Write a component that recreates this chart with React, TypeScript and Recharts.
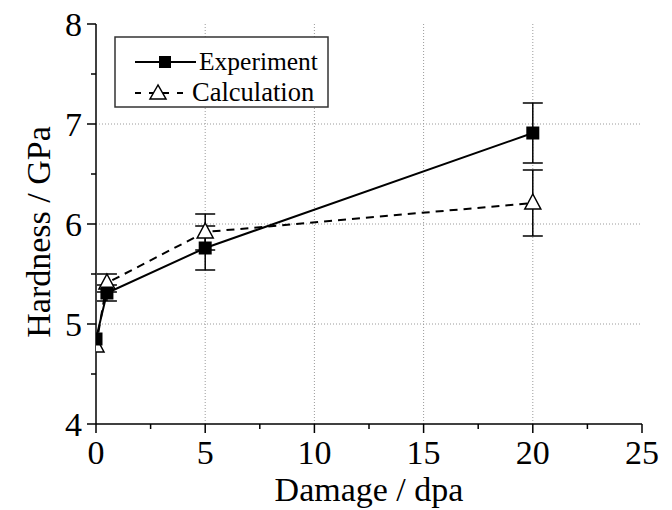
import { LineChart, Line, XAxis, YAxis, ErrorBar, ReferenceLine, Label } from 'recharts';

const damage = [0, 0.5, 5, 20];
const experiment = [4.85, 5.31, 5.76, 6.91];
const experimentErr = [null, 0.08, 0.22, 0.3];
const calculation = [4.78, 5.41, 5.92, 6.21];
const calculationErr = [null, 0.09, 0.18, 0.33];

const xTicks = [0, 2.5, 5, 7.5, 10, 12.5, 15, 17.5, 20, 22.5, 25];
const yTicks = [4, 4.5, 5, 5.5, 6, 6.5, 7, 7.5, 8];
const xGrid = [5, 10, 15, 20];
const yGrid = [5, 6, 7];

const seriesNames = ['Experiment', 'Calculation'];

const rows = damage.map((x, i) => ({
  x,
  exp: experiment[i],
  expErr: experimentErr[i],
  calc: calculation[i],
  calcErr: calculationErr[i],
}));

const FONT = 'Liberation Serif, Tinos, Times New Roman, serif';
const textStyle = { fontFamily: FONT };

const isMajor = (v: number) => v % 5 === 0;
const isMajorY = (v: number) => v % 1 === 0;

const BottomTick = ({ x, y, payload }: any) => {
  const major = isMajor(payload.value);
  return (
    <g>
      <line x1={x} y1={y} x2={x} y2={y + (major ? 9 : 5)} stroke="#000" strokeWidth={1.5} />
      {major && (
        <text x={x} y={y + 40} textAnchor="middle" fontSize={34} style={textStyle} fill="#000">
          {payload.value}
        </text>
      )}
    </g>
  );
};

const TopTick = ({ x, y, payload }: any) => {
  const major = isMajor(payload.value);
  return <line x1={x} y1={y} x2={x} y2={y + (major ? 9 : 5)} stroke="#000" strokeWidth={1.5} />;
};

const LeftTick = ({ x, y, payload }: any) => {
  const major = isMajorY(payload.value);
  return (
    <g>
      <line x1={x - (major ? 9 : 5)} y1={y} x2={x} y2={y} stroke="#000" strokeWidth={1.5} />
      {major && (
        <text x={x - 14} y={y} dy="0.35em" textAnchor="end" fontSize={34} style={textStyle} fill="#000">
          {payload.value}
        </text>
      )}
    </g>
  );
};

const RightTick = ({ x, y, payload }: any) => {
  const major = isMajorY(payload.value);
  return <line x1={x - (major ? 9 : 5)} y1={y} x2={x} y2={y} stroke="#000" strokeWidth={1.5} />;
};

const SquareDot = ({ cx, cy, index }: any) => (
  <rect key={`sq-${index}`} x={cx - 6.5} y={cy - 6.5} width={13} height={13} fill="#000" />
);

const TriangleDot = ({ cx, cy, index }: any) => (
  <polygon
    key={`tr-${index}`}
    points={`${cx},${cy - 9} ${cx - 8},${cy + 6} ${cx + 8},${cy + 6}`}
    fill="#fff"
    stroke="#000"
    strokeWidth={1.5}
  />
);

const XTitle = ({ viewBox }: any) => {
  const cx = viewBox.x + viewBox.width / 2;
  return (
    <text x={cx} y={501} textAnchor="middle" fontSize={34} style={textStyle} fill="#000">
      Damage / dpa
    </text>
  );
};

const YTitle = ({ viewBox }: any) => {
  const cy = viewBox.y + viewBox.height / 2 + 8;
  return (
    <text
      x={50}
      y={cy}
      transform={`rotate(-90 50 ${cy})`}
      textAnchor="middle"
      fontSize={34}
      style={textStyle}
      fill="#000"
    >
      Hardness / GPa
    </text>
  );
};

function ChartLegend() {
  return (
    <svg
      width={215}
      height={72}
      style={{ position: 'absolute', left: 114, top: 36 }}
    >
      <rect x={1} y={1} width={213} height={70} fill="#fff" stroke="#333" strokeWidth={1.5} />
      <line x1={21} y1={26} x2={82} y2={26} stroke="#000" strokeWidth={2} />
      <rect x={45} y={20} width={12} height={12} fill="#000" />
      <text x={85} y={34} fontSize={25.5} style={textStyle} fill="#000">{seriesNames[0]}</text>
      <line x1={21} y1={57} x2={76} y2={57} stroke="#000" strokeWidth={2} strokeDasharray="6 8" />
      <polygon points="44,49 36,63 52,63" fill="#fff" stroke="#000" strokeWidth={1.5} />
      <text x={78} y={65} fontSize={26.5} style={textStyle} fill="#000">{seriesNames[1]}</text>
    </svg>
  );
}

export default function App() {
  return (
    <div style={{ position: 'absolute', left: 0, top: 0, width: 672, height: 510, background: '#fff' }}>
      <LineChart width={672} height={510} data={rows} margin={{ top: 24, right: 30, bottom: 0, left: 0 }}>
        <XAxis
          dataKey="x"
          type="number"
          domain={[0, 25]}
          ticks={xTicks}
          interval={0}
          allowDataOverflow
          height={86}
          tickSize={0}
          tickMargin={0}
          tick={<BottomTick />}
          axisLine={{ stroke: '#000', strokeWidth: 1.5 }}
          tickLine={false}
        >
          <Label content={<XTitle />} />
        </XAxis>
        <XAxis
          xAxisId="top"
          dataKey="x"
          type="number"
          orientation="top"
          domain={[0, 25]}
          ticks={xTicks}
          interval={0}
          allowDataOverflow
          height={0}
          tickSize={0}
          tickMargin={0}
          tick={<TopTick />}
          axisLine={{ stroke: '#000', strokeWidth: 1.5 }}
          tickLine={false}
        />
        <YAxis
          type="number"
          domain={[4, 8]}
          ticks={yTicks}
          interval={0}
          allowDataOverflow
          width={96}
          tickSize={0}
          tickMargin={0}
          tick={<LeftTick />}
          axisLine={{ stroke: '#000', strokeWidth: 1.5 }}
          tickLine={false}
        >
          <Label content={<YTitle />} />
        </YAxis>
        <YAxis
          yAxisId="right"
          type="number"
          orientation="right"
          domain={[4, 8]}
          ticks={yTicks}
          interval={0}
          allowDataOverflow
          width={0}
          tickSize={0}
          tickMargin={0}
          tick={<RightTick />}
          axisLine={{ stroke: '#000', strokeWidth: 1.5 }}
          tickLine={false}
        />
        {xGrid.map((v) => (
          <ReferenceLine key={`gx-${v}`} x={v} stroke="#9a9a9a" strokeWidth={1} strokeDasharray="1 2" />
        ))}
        {yGrid.map((v) => (
          <ReferenceLine key={`gy-${v}`} y={v} stroke="#9a9a9a" strokeWidth={1} strokeDasharray="1 2" />
        ))}
        <Line
          type="linear"
          dataKey="calc"
          stroke="#000"
          strokeWidth={2}
          strokeDasharray="8 6"
          dot={<TriangleDot />}
          activeDot={false}
          isAnimationActive={false}
        >
          <ErrorBar dataKey="calcErr" width={10} stroke="#000" strokeWidth={1.5} direction="y" />
        </Line>
        <Line
          type="linear"
          dataKey="exp"
          stroke="#000"
          strokeWidth={2}
          dot={<SquareDot />}
          activeDot={false}
          isAnimationActive={false}
        >
          <ErrorBar dataKey="expErr" width={10} stroke="#000" strokeWidth={1.5} direction="y" />
        </Line>
      </LineChart>
      <ChartLegend />
    </div>
  );
}
